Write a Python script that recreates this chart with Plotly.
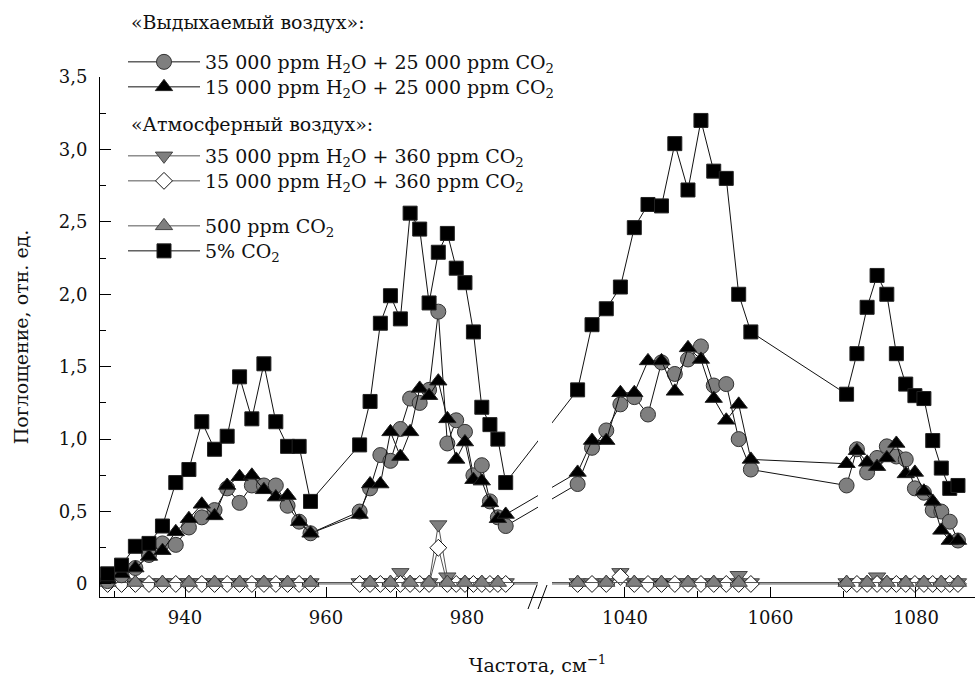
import plotly.graph_objects as go

# CO2-laser line frequencies (cm^-1) for the four groups of points
X_10P = [929.02, 931.00, 932.96, 934.89, 936.80, 938.69, 940.55, 942.38, 944.19,
         945.98, 947.74, 949.48, 951.19, 952.88, 954.55, 956.19, 957.80]
X_10R = [964.77, 966.25, 967.71, 969.14, 970.55, 971.93, 973.29, 974.62, 975.93,
         977.21, 978.47, 979.71, 980.91, 982.10, 983.25, 984.38, 985.49]
X_9P = [1033.49, 1035.47, 1037.43, 1039.37, 1041.28, 1043.16, 1045.02, 1046.85,
        1048.66, 1050.44, 1052.20, 1053.92, 1055.63, 1057.30]
X_9R = [1070.46, 1071.88, 1073.28, 1074.65, 1075.99, 1077.30, 1078.59, 1079.85,
        1081.09, 1082.30, 1083.48, 1084.64, 1085.77]

# 35 000 ppm H2O + 25 000 ppm CO2 (grey circles)
exh_35k = ([0.02, 0.06, 0.11, 0.20, 0.28, 0.27, 0.39, 0.46, 0.51, 0.66, 0.56, 0.68, 0.68, 0.68, 0.54, 0.43, 0.35]
           + [0.50, 0.66, 0.89, 0.85, 1.07, 1.28, 1.25, 1.34, 1.88, 0.97, 1.13, 1.05, 0.75, 0.82, 0.57, 0.46, 0.40]
           + [0.69, 0.94, 1.06, 1.24, 1.29, 1.17, 1.53, 1.45, 1.55, 1.64, 1.37, 1.38, 1.00, 0.79]
           + [0.68, 0.93, 0.77, 0.87, 0.95, 0.88, 0.86, 0.66, 0.63, 0.51, 0.50, 0.43, 0.30])
# 15 000 ppm H2O + 25 000 ppm CO2 (black triangles)
exh_15k = ([0.03, 0.07, 0.11, 0.19, 0.23, 0.36, 0.45, 0.55, 0.47, 0.68, 0.74, 0.75, 0.65, 0.60, 0.61, 0.43, 0.35]
           + [0.48, 0.69, 0.69, 1.05, 0.88, 1.05, 1.35, 1.30, 1.40, 1.14, 0.86, 0.98, 0.72, 0.71, 0.56, 0.45, 0.48]
           + [0.77, 0.99, 0.99, 1.32, 1.32, 1.54, 1.54, 1.33, 1.63, 1.55, 1.28, 1.13, 1.24, 0.86]
           + [0.83, 0.92, 0.84, 0.81, 0.87, 0.97, 0.76, 0.77, 0.64, 0.57, 0.37, 0.30, 0.30])
# 35 000 ppm H2O + 360 ppm CO2 (grey down-triangles)
atm_35k = ([0.01] * 17
           + [0.01, 0.01, 0.01, 0.01, 0.08, 0.01, 0.01, 0.01, 0.41, 0.05, 0.01, 0.01, 0.01, 0.01, 0.01, 0.01, 0.01]
           + [0.01, 0.01, 0.01, 0.08, 0.01, 0.01, 0.01, 0.01, 0.01, 0.01, 0.01, 0.01, 0.06, 0.01]
           + [0.01, 0.01, 0.01, 0.05, 0.01, 0.01, 0.01, 0.01, 0.01, 0.01, 0.01, 0.01, 0.01])
# 15 000 ppm H2O + 360 ppm CO2 (white diamonds)
atm_15k = ([0.0] * 17
           + [0.0, 0.0, 0.0, 0.0, 0.0, 0.0, 0.0, 0.0, 0.25, 0.0, 0.0, 0.0, 0.0, 0.0, 0.0, 0.0, 0.0]
           + [0.0, 0.0, 0.0, 0.05, 0.0, 0.0, 0.0, 0.0, 0.0, 0.0, 0.0, 0.0, 0.0, 0.0]
           + [0.0] * 13)
# 500 ppm CO2 (grey triangles, measured on every other line)
co2_500 = ([0.01, None] * 8 + [0.01]
           + [None, 0.01] * 8 + [None]
           + [0.01, None] * 6 + [0.01, None]
           + [0.01, None] * 6 + [0.01])
# 5% CO2 (black squares)
co2_5pc = ([0.07, 0.13, 0.26, 0.28, 0.40, 0.70, 0.79, 1.12, 0.93, 1.02, 1.43, 1.14, 1.52, 1.12, 0.95, 0.95, 0.57]
           + [0.96, 1.26, 1.80, 1.99, 1.83, 2.56, 2.45, 1.94, 2.29, 2.42, 2.18, 2.08, 1.74, 1.22, 1.10, 1.00, 0.70]
           + [1.34, 1.79, 1.90, 2.05, 2.46, 2.62, 2.61, 3.04, 2.72, 3.20, 2.85, 2.80, 2.00, 1.74]
           + [1.31, 1.59, 1.91, 2.13, 2.00, 1.59, 1.38, 1.30, 1.28, 0.99, 0.80, 0.66, 0.68])

X_ALL = X_10P + X_10R + X_9P + X_9R

Y_TICKS = [0, 0.5, 1.0, 1.5, 2.0, 2.5, 3.0, 3.5]
Y_TICK_TEXT = ["0", "0,5", "1,0", "1,5", "2,0", "2,5", "3,0", "3,5"]
X_TICKS = [940, 960, 980, 1040, 1060, 1080]
X_MINOR = [930, 950, 970, 1050, 1070]

# broken axis: the 1025-1090 part is shifted left (and slightly stretched)
def xmap(v):
    return v if v < 1000 else 1002.41 + (v - 1040) * 1.032

XM = [xmap(v) for v in X_ALL]

FONT = "DejaVu Serif"
TXT = "#111111"
GREY = "#7f7f7f"

# pixel helpers for layout (plot area: x 100..975, y 77..597)
L, R, T, B = 100, 975, 77, 597
def px(xp):
    return (xp - L) / (R - L)
def py(yp):
    return (B - yp) / (B - T)

fig = go.Figure()

def add(name, y, symbol, color, lcolor, size, legend, linecolor="#111111"):
    fig.add_trace(go.Scatter(
        x=XM, y=y, mode="lines+markers", name=name, connectgaps=True, showlegend=True,
        line=dict(color=linecolor, width=1),
        marker=dict(symbol=symbol, color=color, size=size, line=dict(color=lcolor, width=1)),
        legend=legend, hoverinfo="skip"))

# drawing order bottom -> top; one legend box per entry for exact placement
add("35 000 ppm H<sub>2</sub>O + 360 ppm CO<sub>2</sub>", atm_35k, "triangle-down", GREY, "#444", 15, "legend3", "#555")
add("15 000 ppm H<sub>2</sub>O + 360 ppm CO<sub>2</sub>", atm_15k, "diamond", "white", "#111", 13, "legend4", "#555")
add("500 ppm CO<sub>2</sub>", co2_500, "triangle-up", GREY, "#444", 15, "legend5", "#555")
add("35 000 ppm H<sub>2</sub>O + 25 000 ppm CO<sub>2</sub>", exh_35k, "circle", GREY, "#333", 15, "legend")
add("15 000 ppm H<sub>2</sub>O + 25 000 ppm CO<sub>2</sub>", exh_15k, "triangle-up", "black", "#222", 15, "legend2")
add("5% CO<sub>2</sub>", co2_5pc, "square", "black", "#222", 14, "legend6")

shapes = [
    # gap in the data lines at the axis break
    dict(type="rect", xref="paper", yref="paper", x0=px(538), x1=px(552), y0=py(590), y1=py(300),
         fillcolor="white", line=dict(width=0), layer="above"),
    # break marks on the x axis
    dict(type="line", xref="paper", yref="paper", x0=px(528), x1=px(537), y0=py(609), y1=py(585),
         line=dict(color="black", width=1)),
    dict(type="line", xref="paper", yref="paper", x0=px(538), x1=px(547), y0=py(609), y1=py(585),
         line=dict(color="black", width=1)),
]

HEADERS = ["«Выдыхаемый воздух»:", "«Атмосферный воздух»:"]
annotations = [
    dict(text=HEADERS[0], xref="paper", yref="paper", x=px(129), y=py(22), xanchor="left", yanchor="middle",
         showarrow=False, font=dict(family=FONT, size=19, color=TXT)),
    dict(text=HEADERS[1], xref="paper", yref="paper", x=px(129), y=py(124), xanchor="left", yanchor="middle",
         showarrow=False, font=dict(family=FONT, size=19, color=TXT)),
]

def leg(ycenter):
    return dict(font=dict(family=FONT, size=19, color=TXT), bgcolor="rgba(0,0,0,0)",
                borderwidth=0, xanchor="left", yanchor="middle", itemwidth=72,
                itemclick=False, x=px(123), y=py(ycenter))

fig.update_layout(
    width=979, height=682,
    margin=dict(l=L, r=979 - R, t=T, b=682 - B),
    paper_bgcolor="white", plot_bgcolor="white",
    font=dict(family=FONT, size=18, color=TXT),
    showlegend=True,
    shapes=shapes, annotations=annotations,
    legend=leg(62), legend2=leg(87), legend3=leg(156), legend4=leg(181),
    legend5=leg(226), legend6=leg(251),
    xaxis=dict(range=[927.94, 1052.06], showgrid=False, zeroline=False,
               showline=True, linecolor="black", linewidth=1,
               tickmode="array", tickvals=[xmap(v) for v in X_TICKS], ticktext=[str(v) for v in X_TICKS],
               ticks="inside", ticklen=10, tickcolor="black", ticklabelstandoff=4,
               minor=dict(tickmode="array", tickvals=[xmap(v) for v in X_MINOR], ticks="inside",
                          ticklen=6, tickcolor="black"),
               tickfont=dict(family=FONT, size=18, color=TXT),
               title=dict(text="Частота, см<sup>−1</sup>", font=dict(family=FONT, size=19, color=TXT), standoff=32)),
    yaxis=dict(range=[-0.09, 3.5], showgrid=False, zeroline=False,
               showline=True, linecolor="black", linewidth=1,
               tickmode="array", tickvals=Y_TICKS, ticktext=Y_TICK_TEXT,
               ticks="inside", ticklen=11, tickcolor="black",
               minor=dict(dtick=0.25, ticks="inside", ticklen=6, tickcolor="black"),
               tickfont=dict(family=FONT, size=18, color=TXT), ticklabelstandoff=8,
               title=dict(text="Поглощение, отн. ед.", font=dict(family=FONT, size=19, color=TXT), standoff=25)),
)

fig.write_html("out.html")
